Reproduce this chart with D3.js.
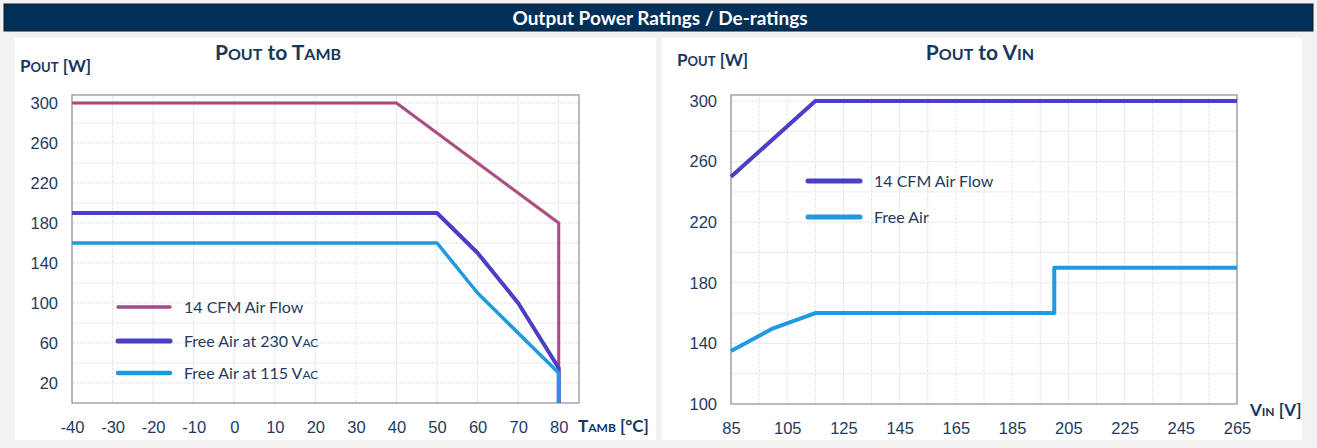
<!DOCTYPE html>
<html>
<head>
<meta charset="utf-8">
<script src="https://cdn.jsdelivr.net/npm/d3@7"></script>
<style>
  body { margin: 0; background: #f2f2f2; }
  svg { display: block; font-family: Lato, "Open Sans", sans-serif; }
  .tick text { fill: #1f3a5f; font-size: 16.5px; }
  .lbl { fill: #17365d; font-weight: bold; }
  .leg { fill: #1f3a5f; font-size: 16px; }
</style>
</head>
<body>
<div id="chart"></div>
<script>
// ---- data, left chart: Pout vs ambient temperature ----
var tambTicks = [-40, -30, -20, -10, 0, 10, 20, 30, 40, 50, 60, 70, 80];
var tambPowerTicks = [20, 60, 100, 140, 180, 220, 260, 300];
var cfmTamb = [[-40, 300], [40, 300], [80, 180], [80, 0]];
var free230 = [[-40, 190], [50, 190], [57, 162], [60, 150], [70, 100], [80, 35], [80, 0]];
var free115 = [[-40, 160], [50, 160], [60, 110], [80, 30], [80, 0]];

// ---- data, right chart: Pout vs input voltage ----
var vinTicks = [85, 105, 125, 145, 165, 185, 205, 225, 245, 265];
var vinPowerTicks = [100, 140, 180, 220, 260, 300];
var cfmVin = [[85, 250], [115, 300], [265, 300]];
var freeVin = [[85, 135], [100, 150], [115, 160], [200, 160], [200, 190], [265, 190]];

var width = 1317;
var height = 448;

var svg = d3.select("#chart").append("svg")
  .attr("width", width)
  .attr("height", height);

// header bar
svg.append("rect")
  .attr("x", 4).attr("y", 4).attr("width", 1309).attr("height", 27)
  .attr("fill", "#003057").attr("stroke", "#0a1a2a").attr("stroke-width", 1);
svg.append("text")
  .attr("x", 660).attr("y", 24.5)
  .attr("text-anchor", "middle")
  .attr("fill", "#fff").attr("font-weight", "bold").attr("font-size", 19)
  .text("Output Power Ratings / De-ratings");

// white panels
svg.append("rect").attr("x", 15).attr("y", 38).attr("width", 641).attr("height", 402).attr("fill", "#fff");
svg.append("rect").attr("x", 662).attr("y", 38).attr("width", 640).attr("height", 402).attr("fill", "#fff");

// small-caps style label: parts = [[text, size], ...]
function capsLabel(x, y, parts, anchor) {
  var t = svg.append("text")
    .attr("class", "lbl")
    .attr("x", x).attr("y", y)
    .attr("text-anchor", anchor || "start");
  parts.forEach(function(p) {
    t.append("tspan").attr("font-size", p[1]).text(p[0]);
  });
  return t;
}

// plain hyphen for negatives, like the original
function plain(d) { return String(d); }

function drawPanel(opt) {
  var x = d3.scaleLinear().domain(opt.xDomain).range(opt.xRange);
  var y = d3.scaleLinear().domain(opt.yDomain).range(opt.yRange);
  var g = svg.append("g");

  // grid
  g.selectAll(".vg").data(opt.xGrid).enter().append("line")
    .attr("x1", function(d) { return x(d); }).attr("x2", function(d) { return x(d); })
    .attr("y1", opt.yRange[0]).attr("y2", opt.yRange[1])
    .attr("stroke", "#e4e4e4").attr("stroke-dasharray", "3,1");
  g.selectAll(".hg").data(opt.yGrid).enter().append("line")
    .attr("y1", function(d) { return y(d); }).attr("y2", function(d) { return y(d); })
    .attr("x1", opt.xRange[0]).attr("x2", opt.xRange[1])
    .attr("stroke", "#e4e4e4").attr("stroke-dasharray", "3,1");

  // frame
  g.append("rect")
    .attr("x", opt.xRange[0]).attr("y", opt.yRange[1])
    .attr("width", opt.xRange[1] - opt.xRange[0])
    .attr("height", opt.yRange[0] - opt.yRange[1])
    .attr("fill", "none").attr("stroke", "#8a8f96").attr("stroke-width", 1.2);

  // axes (labels only)
  g.append("g")
    .attr("transform", "translate(0," + (opt.yRange[0] + 10) + ")")
    .call(d3.axisBottom(x).tickValues(opt.xTicks).tickSize(0).tickPadding(8).tickFormat(plain))
    .call(function(a) { a.select(".domain").remove(); })
    .selectAll("text").attr("font-family", null).attr("font-size", null);
  g.append("g")
    .attr("transform", "translate(" + (opt.xRange[0] - 14) + ",0)")
    .call(d3.axisLeft(y).tickValues(opt.yTicks).tickSize(0).tickPadding(0).tickFormat(plain))
    .call(function(a) { a.select(".domain").remove(); })
    .selectAll("text").attr("font-family", null).attr("font-size", null);

  var line = d3.line()
    .x(function(d) { return x(d[0]); })
    .y(function(d) { return y(d[1]); });

  opt.series.forEach(function(s) {
    if (s.edge) {
      g.append("path").datum(s.data).attr("d", line)
        .attr("fill", "none").attr("stroke", s.edge).attr("stroke-width", s.w + 1);
    }
    g.append("path").datum(s.data).attr("d", line)
      .attr("fill", "none").attr("stroke", s.color).attr("stroke-width", s.w)
      .attr("stroke-linejoin", "round");
  });

  // legend
  opt.series.forEach(function(s, i) {
    var ly = opt.legend.y[i];
    g.append("line")
      .attr("x1", opt.legend.x).attr("x2", opt.legend.x + 52)
      .attr("y1", ly).attr("y2", ly)
      .attr("stroke", s.color).attr("stroke-width", s.w + 1).attr("stroke-linecap", "round");
    var t = g.append("text").attr("class", "leg")
      .attr("x", opt.legend.x + 66).attr("y", ly + 6);
    t.append("tspan").text(s.name);
    if (s.sub) t.append("tspan").attr("font-size", 12).text(s.sub);
  });
}

drawPanel({
  xDomain: [-40, 85], xRange: [72, 579],
  yDomain: [0, 308], yRange: [403, 95],
  xGrid: tambTicks, yGrid: d3.range(20, 301, 20),
  xTicks: tambTicks, yTicks: tambPowerTicks,
  series: [
    { name: "14 CFM Air Flow", data: cfmTamb, color: "#a04a91", edge: "#e5a08a", w: 2.5 },
    { name: "Free Air at 230 V", sub: "AC", data: free230, color: "#4a3fc6", w: 4 },
    { name: "Free Air at 115 V", sub: "AC", data: free115, color: "#1e9be0", w: 3.5 }
  ],
  legend: { x: 118, y: [307, 341, 373] }
});

drawPanel({
  xDomain: [85, 265], xRange: [731, 1237],
  yDomain: [100, 304], yRange: [404, 95],
  xGrid: d3.range(85, 266, 10), yGrid: d3.range(120, 301, 20),
  xTicks: vinTicks, yTicks: vinPowerTicks,
  series: [
    { name: "14 CFM Air Flow", data: cfmVin, color: "#4a3fc6", w: 4 },
    { name: "Free Air", data: freeVin, color: "#1e9be0", w: 4 }
  ],
  legend: { x: 808, y: [181, 217] }
});

// titles and axis labels
capsLabel(278, 60, [["P", 21], ["OUT", 16], [" to T", 21], ["AMB", 16]], "middle");
capsLabel(980, 60, [["P", 21], ["OUT", 16], [" to V", 21], ["IN", 16]], "middle");
capsLabel(20, 72, [["P", 17], ["OUT", 13], [" [W]", 17]]);
capsLabel(677, 66, [["P", 17], ["OUT", 13], [" [W]", 17]]);
capsLabel(578, 432, [["T", 17], ["AMB", 12], [" [°C]", 17]]);
capsLabel(1250, 416, [["V", 17], ["IN", 12], [" [V]", 17]]);
</script>
</body>
</html>
